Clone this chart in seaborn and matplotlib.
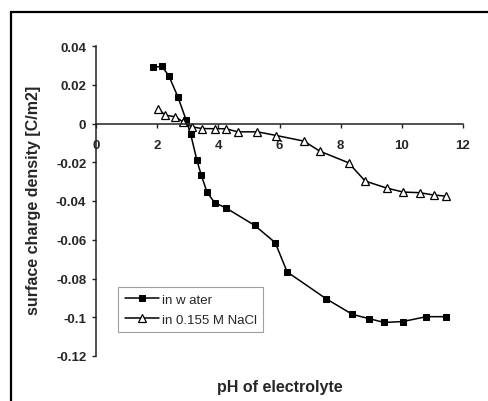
import matplotlib
matplotlib.use('Agg')
import matplotlib.pyplot as plt
import seaborn as sns
import pandas as pd
from matplotlib.patches import Rectangle

# Values
ph_water = [1.88, 2.15, 2.38, 2.68, 2.95, 3.09, 3.30, 3.44, 3.63, 3.88, 4.24,
            5.19, 5.86, 6.25, 7.52, 8.38, 8.92, 9.43, 10.04, 10.8, 11.45]
charge_water = [0.029, 0.0295, 0.0247, 0.0136, 0.0017, -0.0052, -0.019, -0.0266,
                -0.0354, -0.0409, -0.0435, -0.0526, -0.0615, -0.0766, -0.0904,
                -0.0985, -0.1007, -0.1027, -0.1022, -0.0997, -0.0997]

ph_nacl = [2.04, 2.26, 2.59, 2.86, 3.13, 3.46, 3.89, 4.25, 4.63, 5.28, 5.9,
           6.8, 7.32, 8.26, 8.8, 9.5, 10.05, 10.58, 11.04, 11.45]
charge_nacl = [0.0076, 0.0043, 0.0035, 0.0007, -0.0017, -0.0026, -0.0027, -0.0027,
               -0.0043, -0.0043, -0.0062, -0.0091, -0.0143, -0.0203, -0.0297,
               -0.0333, -0.0354, -0.0357, -0.0369, -0.0375]

x_ticks = [0, 2, 4, 6, 8, 10, 12]
y_ticks = [0.04, 0.02, 0, -0.02, -0.04, -0.06, -0.08, -0.1, -0.12]
y_tick_labels = ['0.04', '0.02', '0', '-0.02', '-0.04', '-0.06', '-0.08', '-0.1', '-0.12']

sns.set_style('white')
plt.rcParams['font.family'] = ['Liberation Sans', 'DejaVu Sans']

water = pd.DataFrame({'pH': ph_water, 'sigma': charge_water})
nacl = pd.DataFrame({'pH': ph_nacl, 'sigma': charge_nacl})

fig = plt.figure(figsize=(4.88, 4.02), dpi=100)
ax = fig.add_axes([96 / 488, 1 - 357 / 402, 367 / 488, 310 / 402])

sns.lineplot(data=water, x='pH', y='sigma', ax=ax, sort=False, color='black',
             linewidth=1.1, marker='s', markersize=5, markerfacecolor='black',
             markeredgecolor='black', label='in w ater')
sns.lineplot(data=nacl, x='pH', y='sigma', ax=ax, sort=False, color='black',
             linewidth=1.1, marker='^', markersize=6, markerfacecolor='white',
             markeredgecolor='black', markeredgewidth=0.9, label='in 0.155 M NaCl')

ax.set_xlim(0, 12)
ax.set_ylim(-0.12, 0.04)
ax.set_xticks(x_ticks)
ax.set_yticks(y_ticks)
ax.set_yticklabels(y_tick_labels)

for side in ['top', 'right']:
    ax.spines[side].set_visible(False)
ax.spines['bottom'].set_position(('data', 0))
for side in ['left', 'bottom']:
    ax.spines[side].set_color('#222222')
    ax.spines[side].set_linewidth(1.1)

ax.tick_params(axis='both', direction='out', length=3, width=1, color='#222222',
               labelsize=9.5, bottom=True, left=True)
ax.tick_params(axis='x', pad=8)
ax.tick_params(axis='y', pad=4)
for lbl in ax.get_xticklabels() + ax.get_yticklabels():
    lbl.set_fontweight('bold')

ax.set_xlabel('pH of electrolyte', fontsize=11.5, fontweight='bold')
ax.set_ylabel('surface charge density [C/m2]', fontsize=11.5, fontweight='bold')
ax.xaxis.set_label_coords(0.5, -0.075)
ax.yaxis.set_label_coords(-0.15, 0.506)

leg = ax.legend(loc='upper left', bbox_to_anchor=(0.06, 0.223), borderaxespad=0,
                fontsize=9.5, frameon=True, fancybox=False, edgecolor='#888888',
                handlelength=2.6, handletextpad=0.2, borderpad=0.5, labelspacing=0.6)
leg.get_frame().set_linewidth(0.8)

# outer chart frame
fig.add_artist(Rectangle((11 / 488, -0.05), 1.2, 1 - 13 / 402 + 0.05,
                         transform=fig.transFigure, fill=False,
                         edgecolor='black', linewidth=1.6, clip_on=False))

fig.savefig('out.png', dpi=100)
